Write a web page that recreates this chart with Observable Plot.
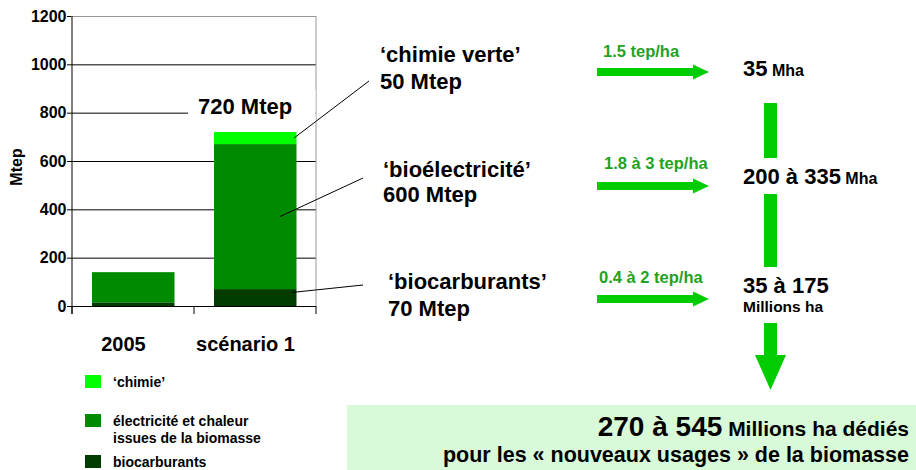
<!DOCTYPE html>
<html><head><meta charset="utf-8">
<script src="https://cdn.jsdelivr.net/npm/d3@7"></script>
<script src="https://cdn.jsdelivr.net/npm/@observablehq/plot@0.6"></script>
<style>html,body{margin:0;padding:0;background:#fff}svg{display:block}</style>
</head><body><div id="chart"></div>
<script>
// ---- data ----
const categories = ["2005", "scénario 1"];
const seriesKeys = ["biocarburants", "electricite", "chimie"];
const biocarburants = [15, 70];
const electricite = [125, 600];
const chimie = [0, 50];
const yTicks = [0, 200, 400, 600, 800, 1000, 1200];
const seriesColors = ["#003c00", "#008a00", "#00ff00"];
const legendLabels = [["‘chimie’"], ["électricité et chaleur", "issues de la biomasse"], ["biocarburants"]];
const legendColors = ["#00ff00", "#008a00", "#003c00"];
const calloutLabels = [["‘chimie verte’", "50 Mtep"], ["‘bioélectricité’", "600 Mtep"], ["‘biocarburants’", "70 Mtep"]];
const yieldLabels = ["1.5 tep/ha", "1.8 à 3 tep/ha", "0.4 à 2 tep/ha"];
const areaLabels = [["35", " Mha"], ["200 à 335", " Mha"], ["35 à 175", ""]];
const totalLine1 = ["270 à 545", " Millions ha dédiés"];
const totalLine2 = "pour les « nouveaux usages » de la biomasse";

const seriesValues = {biocarburants, electricite, chimie};
const table = [];
categories.forEach((c, i) => seriesKeys.forEach(s => table.push({cat: c, series: s, value: seriesValues[s][i]})));

const FONT = "'Liberation Sans', Arial, sans-serif";

const plot = Plot.plot({
  width: 916, height: 470,
  marginLeft: 71, marginRight: 600, marginTop: 16, marginBottom: 164,
  style: {fontFamily: FONT, background: "white", overflow: "visible", color: "#000"},
  x: {domain: categories, padding: 0, axis: null},
  y: {domain: [0, 1200], axis: null},
  color: {domain: seriesKeys, range: seriesColors},
  marks: [
    Plot.ruleY(yTicks.filter(d => d > 0 && d < 1200), {stroke: "#000", strokeWidth: 1}),
    Plot.ruleY([1200], {stroke: "#999", strokeWidth: 1}),
    Plot.barY(table, {x: "cat", y: "value", fill: "series", insetLeft: 20, insetRight: 19.5}),
    Plot.ruleY([0], {stroke: "#000", strokeWidth: 1}),
    Plot.axisY(yTicks, {tickSize: 4, tickPadding: 1, fontSize: 16, fontWeight: "bold", label: null, tickFormat: d => String(d)}),
    Plot.axisX(categories, {tickSize: 0, tickPadding: 30, fontSize: 20, fontWeight: "bold", label: null, dx: -10})
  ]
});
document.getElementById("chart").appendChild(plot);

const svg = d3.select(plot);
const xs = plot.scale("x"), ys = plot.scale("y");
const x0 = xs.apply(categories[0]);
const xEnd = xs.apply(categories[categories.length - 1]) + xs.bandwidth;
const yTop = ys.apply(1200), yBase = ys.apply(0);
const g = svg.append("g").attr("font-family", FONT).attr("font-weight", "bold").attr("text-anchor", "start");

// axis line, right border, category ticks
g.append("line").attr("x1", x0).attr("x2", x0).attr("y1", yTop).attr("y2", yBase + 8).attr("stroke", "#000");
g.append("line").attr("x1", xEnd).attr("x2", xEnd).attr("y1", yTop).attr("y2", yBase).attr("stroke", "#999");
[...categories.map(c => xs.apply(c)), xEnd].forEach(x =>
  g.append("line").attr("x1", x).attr("x2", x).attr("y1", yBase).attr("y2", yBase + 8).attr("stroke", "#000"));

// y label
g.append("text").attr("transform", "translate(22,167) rotate(-90)").attr("text-anchor", "middle")
  .attr("font-size", 16).text("Mtep");

// total label with white background
const total = biocarburants[1] + electricite[1] + chimie[1];
g.append("rect").attr("x", 188).attr("y", 90).attr("width", xEnd - 188 - 0.5).attr("height", 33).attr("fill", "#fff");
g.append("text").attr("x", 198).attr("y", 114).attr("font-size", 22).text(total + " Mtep");

// leader lines from bar segments to callouts
const sc = categories[1];
const xb = xs.apply(sc);
const starts = [
  [xb + xs.bandwidth - 22, ys.apply(biocarburants[1] + electricite[1] + chimie[1] / 2)],
  [xb + 86, ys.apply(biocarburants[1] + electricite[1] / 2)],
  [xb + 98, ys.apply(biocarburants[1] * 0.8)]
];
const ends = [[369, 81], [363, 178], [363, 285]];
starts.forEach((s, i) => g.append("line").attr("x1", s[0]).attr("y1", s[1]).attr("x2", ends[i][0]).attr("y2", ends[i][1])
  .attr("stroke", "#000").attr("stroke-width", 1));

// callout texts
const calloutPos = [[380, 62, 89], [383, 177, 202], [388, 289, 316]];
calloutLabels.forEach((l, i) => {
  const p = calloutPos[i];
  g.append("text").attr("x", p[0]).attr("y", p[1]).attr("font-size", 22).text(l[0]);
  g.append("text").attr("x", p[0]).attr("y", p[2]).attr("font-size", 22).text(l[1]);
});

// horizontal arrows with yields
const ARROW = "#00cc00", GTEXT = "#1fa31f";
const arrowY = [72, 186, 299];
const yieldPos = [[603, 57], [604, 169], [599, 283]];
arrowY.forEach((c, i) => {
  g.append("path").attr("fill", ARROW)
    .attr("d", `M597,${c - 4}H693V${c - 7.5}L709,${c}L693,${c + 7.5}V${c + 4}H597Z`);
  g.append("text").attr("x", yieldPos[i][0]).attr("y", yieldPos[i][1]).attr("font-size", 16.5)
    .attr("fill", GTEXT).text(yieldLabels[i]);
});

// area labels
const areaY = [76, 184, 293];
areaLabels.forEach((a, i) => {
  const t = g.append("text").attr("x", 743).attr("y", areaY[i]);
  t.append("tspan").attr("font-size", 22).text(a[0]);
  if (a[1]) t.append("tspan").attr("font-size", 16).text(a[1]);
});
g.append("text").attr("x", 743).attr("y", 312).attr("font-size", 15.5).text("Millions ha");

// vertical connectors and down arrow
g.append("rect").attr("x", 764).attr("y", 103).attr("width", 13).attr("height", 55).attr("fill", ARROW);
g.append("rect").attr("x", 764).attr("y", 194).attr("width", 13).attr("height", 73).attr("fill", ARROW);
g.append("path").attr("fill", ARROW).attr("d", "M764,323H777V355H786L770.5,390L755,355H764Z");

// bottom box
g.append("rect").attr("x", 347).attr("y", 405).attr("width", 916 - 347).attr("height", 65).attr("fill", "#d8fad8");
const t1 = g.append("text").attr("x", 909).attr("y", 436).attr("text-anchor", "end");
t1.append("tspan").attr("font-size", 28).text(totalLine1[0]);
t1.append("tspan").attr("font-size", 21).text(totalLine1[1]);
g.append("text").attr("x", 909).attr("y", 462).attr("text-anchor", "end").attr("font-size", 21.5).text(totalLine2);

// legend
const legY = [375, 414, 455];
legendLabels.forEach((l, i) => {
  g.append("rect").attr("x", 85).attr("y", legY[i]).attr("width", 16).attr("height", 13).attr("fill", legendColors[i]);
  l.forEach((line, j) => g.append("text").attr("x", 113).attr("y", legY[i] + 12 + j * 17).attr("font-size", 14).text(line));
});
</script>
</body></html>
